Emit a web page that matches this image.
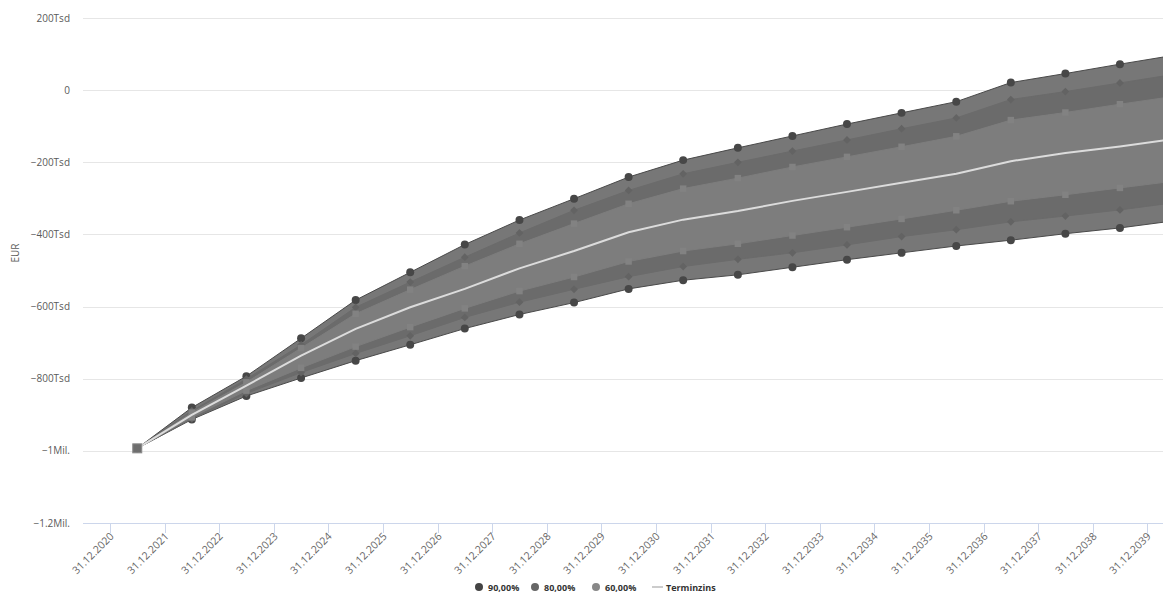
<!DOCTYPE html>
<html>
<head>
<meta charset="utf-8">
<script src="https://cdn.jsdelivr.net/npm/d3@7"></script>
<style>
  body { margin: 0; background: #fff; }
  text { font-family: "Open Sans", sans-serif; }
</style>
</head>
<body>
<script>
// Data (values in EUR thousands), one point per year
const pointDates = [
  "01.07.2021", "01.07.2022", "01.07.2023", "01.07.2024", "01.07.2025",
  "01.07.2026", "01.07.2027", "01.07.2028", "01.07.2029", "01.07.2030",
  "01.07.2031", "01.07.2032", "01.07.2033", "01.07.2034", "01.07.2035",
  "01.07.2036", "01.07.2037", "01.07.2038", "01.07.2039", "01.07.2040"
];
const terminzins = [-993, -900, -819, -736, -662, -602, -551, -494, -446, -394, -359, -335, -307, -282, -257, -232, -197, -174, -156, -135];
const upper90 = [-993, -880, -793, -688, -582, -505, -428, -360, -301, -241, -194, -160, -127, -94, -63, -32, 21, 46, 72, 97];
const lower90 = [-993, -913, -848, -798, -750, -706, -661, -622, -589, -551, -527, -512, -491, -470, -451, -432, -416, -398, -382, -362];
const upper80 = [-993, -889, -801, -706, -602, -532, -463, -396, -333, -278, -232, -200, -169, -138, -107, -77, -26, -4, 20, 44];
const lower80 = [-993, -911, -841, -783, -730, -681, -630, -588, -552, -517, -489, -469, -451, -429, -406, -387, -365, -349, -332, -312];
const upper60 = [-993, -894, -810, -715, -620, -553, -488, -426, -370, -315, -273, -244, -213, -185, -157, -128, -83, -62, -39, -17];
const lower60 = [-993, -907, -833, -770, -711, -657, -605, -557, -518, -475, -446, -426, -403, -380, -357, -333, -308, -290, -271, -252];

const xTickLabels = [
  "31.12.2020", "31.12.2021", "31.12.2022", "31.12.2023", "31.12.2024",
  "31.12.2025", "31.12.2026", "31.12.2027", "31.12.2028", "31.12.2029",
  "31.12.2030", "31.12.2031", "31.12.2032", "31.12.2033", "31.12.2034",
  "31.12.2035", "31.12.2036", "31.12.2037", "31.12.2038", "31.12.2039"
];
const yTickValues = [200, 0, -200, -400, -600, -800, -1000, -1200];
const yTickLabels = ["200Tsd", "0", "\u2212200Tsd", "\u2212400Tsd", "\u2212600Tsd", "\u2212800Tsd", "\u22121Mil.", "\u22121.2Mil."];
const legendLabels = ["90,00%", "80,00%", "60,00%", "Terminzins"];

const width = 1163;
const height = 592;
const plot = { left: 83, right: 1163, top: 18, bottom: 523 };

const parse = d3.utcParse("%d.%m.%Y");
const dates = pointDates.map(parse);

const x = d3
  .scaleUtc()
  .domain([parse("03.07.2020"), parse("14.04.2040")])
  .range([plot.left, plot.right]);

const y = d3
  .scaleLinear()
  .domain([-1200, 200])
  .range([plot.bottom, plot.top]);

const svg = d3
  .select("body")
  .append("svg")
  .attr("width", width)
  .attr("height", height);

svg
  .append("defs")
  .append("clipPath")
  .attr("id", "plotClip")
  .append("rect")
  .attr("x", plot.left)
  .attr("y", plot.top - 10)
  .attr("width", plot.right - plot.left)
  .attr("height", plot.bottom - plot.top + 20);

// Grid lines + y labels
yTickValues.forEach((v, i) => {
  svg
    .append("line")
    .attr("x1", plot.left)
    .attr("x2", plot.right)
    .attr("y1", Math.round(y(v)) + 0.5)
    .attr("y2", Math.round(y(v)) + 0.5)
    .style("stroke", "#e6e6e6");
  svg
    .append("text")
    .attr("x", 70)
    .attr("y", y(v) + 3.5)
    .attr("text-anchor", "end")
    .style("font-size", "10px")
    .style("fill", "#5a5a5a")
    .text(yTickLabels[i]);
});

svg
  .append("text")
  .attr("transform", "translate(19,253) rotate(-90)")
  .attr("text-anchor", "middle")
  .style("font-size", "10px")
  .style("fill", "#5a5a5a")
  .text("EUR");

// X axis
svg
  .append("line")
  .attr("x1", plot.left)
  .attr("x2", plot.right)
  .attr("y1", plot.bottom + 0.5)
  .attr("y2", plot.bottom + 0.5)
  .style("stroke", "#ccd6eb");

xTickLabels.forEach((lbl) => {
  const tx = Math.round(x(parse(lbl))) + 0.5;
  svg
    .append("line")
    .attr("x1", tx)
    .attr("x2", tx)
    .attr("y1", plot.bottom)
    .attr("y2", plot.bottom + 10)
    .style("stroke", "#ccd6eb");
  svg
    .append("text")
    .attr("transform", `translate(${tx + 4},${plot.bottom + 14}) rotate(-45)`)
    .attr("text-anchor", "end")
    .style("font-size", "10.5px")
    .style("fill", "#666")
    .text(lbl);
});

// Bands
const g = svg.append("g").attr("clip-path", "url(#plotClip)");

const bands = [
  { upper: upper90, lower: lower90, fill: "#777777", line: "#4a4a4a", marker: "#474747", shape: "circle" },
  { upper: upper80, lower: lower80, fill: "#6b6b6b", line: "#6b6b6b", marker: "#636363", shape: "diamond" },
  { upper: upper60, lower: lower60, fill: "#7d7d7d", line: "#7d7d7d", marker: "#828282", shape: "square" }
];

const area = d3
  .area()
  .x((d) => x(d.date))
  .y0((d) => y(d.lo))
  .y1((d) => y(d.hi));

const edge = d3
  .line()
  .x((d) => x(d.date))
  .y((d) => y(d.v));

bands.forEach((b) => {
  const rows = dates.map((d, i) => ({ date: d, hi: b.upper[i], lo: b.lower[i] }));
  g.append("path").datum(rows).attr("d", area).style("fill", b.fill);

  [b.upper, b.lower].forEach((vals) => {
    g.append("path")
      .datum(dates.map((d, i) => ({ date: d, v: vals[i] })))
      .attr("d", edge)
      .style("fill", "none")
      .style("stroke", b.line)
      .style("stroke-width", 1);
  });

  // circle, or a square turned 45 degrees for the diamond
  const sym = b.shape === "circle" ? d3.symbolCircle : d3.symbolSquare;
  const size = b.shape === "circle" ? 50 : b.shape === "diamond" ? 30 : 42;
  const rot = b.shape === "diamond" ? 45 : 0;

  [b.upper, b.lower].forEach((vals) => {
    g.selectAll(null)
      .data(dates.map((d, i) => ({ date: d, v: vals[i] })))
      .enter()
      .append("path")
      .attr("transform", (d) => `translate(${x(d.date)},${y(d.v)}) rotate(${rot})`)
      .attr("d", d3.symbol().type(sym).size(size))
      .style("fill", b.marker);
  });
});

// Terminzins line
g.append("path")
  .datum(dates.map((d, i) => ({ date: d, v: terminzins[i] })))
  .attr("d", edge)
  .style("fill", "none")
  .style("stroke", "#dcdcdc")
  .style("stroke-width", 2);

// Start point marker (all ranges meet here)
g.append("rect")
  .attr("x", x(dates[0]) - 4.5)
  .attr("y", y(terminzins[0]) - 4.5)
  .attr("width", 9)
  .attr("height", 9)
  .style("fill", "#6e6e6e")
  .style("stroke", "#8a8a8a")
  .style("stroke-width", 1);

// Legend
const legendX = [479, 535, 596, 652];
const legendColors = ["#444444", "#666666", "#888888", "#cccccc"];
const legend = svg.append("g");
legendLabels.forEach((lbl, i) => {
  if (i < 3) {
    legend
      .append("circle")
      .attr("cx", legendX[i])
      .attr("cy", 587)
      .attr("r", 4)
      .style("fill", legendColors[i]);
  } else {
    legend
      .append("line")
      .attr("x1", legendX[i])
      .attr("x2", legendX[i] + 11)
      .attr("y1", 587)
      .attr("y2", 587)
      .style("stroke", legendColors[i])
      .style("stroke-width", 2);
  }
  legend
    .append("text")
    .attr("x", i < 3 ? legendX[i] + 9 : legendX[i] + 14)
    .attr("y", 590.5)
    .style("font-size", "9px")
    .style("font-weight", "bold")
    .style("fill", "#333")
    .text(lbl);
});
</script>
</body>
</html>
